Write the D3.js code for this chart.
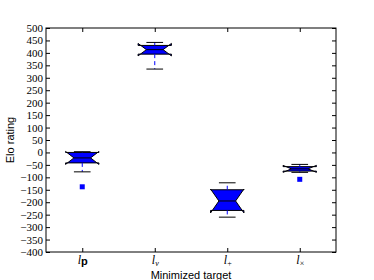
<!DOCTYPE html>
<html>
<head>
<meta charset="utf-8">
<script src="https://cdn.jsdelivr.net/npm/d3@7"></script>
<style>
  body { margin: 0; background: #fff; }
  svg { display: block; }
</style>
</head>
<body>
<div id="chart"></div>
<script>
// boxplot stats (Elo rating)
const subs = ["p", "v", "+", "\u00d7"];
const q1 = [-42, 395, -233, -75];
const med = [-22, 413, -195, -66];
const q3 = [0, 430, -150, -57];
const notchLo = [-48, 388, -243, -80];
const notchHi = [4, 438, -147, -52];
const whiskLo = [-78, 335, -260, -80];
const whiskHi = [3, 442, -122, -48];
const fliers = [[-138], [], [], [-108]];
const yTicks = d3.range(-400, 501, 50);

const margin = {top: 28, right: 38, bottom: 28, left: 46},
    width = 374 - margin.left - margin.right,
    height = 280 - margin.top - margin.bottom;

const svg = d3.select("#chart").append("svg")
    .attr("width", 374)
    .attr("height", 280);

const canvas = svg.append("g")
    .attr("transform", "translate(" + margin.left + "," + margin.top + ")");

const x = d3.scaleLinear().domain([0.5, 4.5]).range([0, width]);
const y = d3.scaleLinear().domain([-400, 500]).range([height, 0]);

const bw = x(1.46) - x(1);   // box width
const data = subs.map((s, i) => ({
    i: i, pos: i + 1, q1: q1[i], med: med[i], q3: q3[i],
    nlo: notchLo[i], nhi: notchHi[i], wlo: whiskLo[i], whi: whiskHi[i], fl: fliers[i]
}));

// notched boxes
canvas.selectAll(".box")
    .data(data)
  .enter().append("path")
    .attr("class", "box")
    .attr("fill", "#0000ff")
    .attr("stroke", "#000")
    .attr("stroke-width", 1)
    .attr("d", function(d) {
        const c = x(d.pos), x0 = c - bw / 2, x1 = c + bw / 2,
            cl = c - bw / 4, cr = c + bw / 4;
        return "M" + x0 + "," + y(d.q1) + "L" + x0 + "," + y(d.nlo) +
            "L" + cl + "," + y(d.med) + "L" + x0 + "," + y(d.nhi) +
            "L" + x0 + "," + y(d.q3) + "L" + x1 + "," + y(d.q3) +
            "L" + x1 + "," + y(d.nhi) + "L" + cr + "," + y(d.med) +
            "L" + x1 + "," + y(d.nlo) + "L" + x1 + "," + y(d.q1) + "Z";
    });

// medians
canvas.selectAll(".median")
    .data(data)
  .enter().append("line")
    .attr("x1", d => x(d.pos) - bw / 4)
    .attr("x2", d => x(d.pos) + bw / 4)
    .attr("y1", d => y(d.med))
    .attr("y2", d => y(d.med))
    .attr("stroke", "#000")
    .attr("stroke-width", 1);

// whiskers (dashed blue)
const whisk = [];
data.forEach(d => {
    whisk.push({pos: d.pos, a: d.q3, b: d.whi});
    whisk.push({pos: d.pos, a: d.q1, b: d.wlo});
});
canvas.selectAll(".whisker")
    .data(whisk)
  .enter().append("line")
    .attr("x1", d => x(d.pos))
    .attr("x2", d => x(d.pos))
    .attr("y1", d => y(d.a))
    .attr("y2", d => y(d.b))
    .attr("stroke", "#0000ff")
    .attr("stroke-width", 1)
    .attr("stroke-dasharray", "4,3");

// caps
const caps = [];
data.forEach(d => {
    caps.push({pos: d.pos, v: d.whi});
    caps.push({pos: d.pos, v: d.wlo});
});
canvas.selectAll(".cap")
    .data(caps)
  .enter().append("line")
    .attr("x1", d => x(d.pos) - bw / 4)
    .attr("x2", d => x(d.pos) + bw / 4)
    .attr("y1", d => y(d.v))
    .attr("y2", d => y(d.v))
    .attr("stroke", "#000")
    .attr("stroke-width", 1);

// outliers
const fl = [];
data.forEach(d => d.fl.forEach(v => fl.push({pos: d.pos, v: v})));
canvas.selectAll(".flier")
    .data(fl)
  .enter().append("rect")
    .attr("x", d => x(d.pos) - 2.5)
    .attr("y", d => y(d.v) - 2.5)
    .attr("width", 5)
    .attr("height", 5)
    .attr("fill", "#0000ff");

// axes, ticks pointing inward on all sides
const serif = "'Liberation Serif', 'DejaVu Serif', serif";
const yAxis = canvas.append("g")
    .call(d3.axisLeft(y).tickValues(yTicks).tickSize(-4).tickPadding(3)
        .tickFormat(d3.format("d")));
canvas.append("g")
    .attr("transform", "translate(" + width + ",0)")
    .call(d3.axisRight(y).tickValues(yTicks).tickSize(-4).tickFormat(""));
const xAxis = canvas.append("g")
    .attr("transform", "translate(0," + height + ")")
    .call(d3.axisBottom(x).tickValues([1, 2, 3, 4]).tickSize(-4)
        .tickFormat(""));
canvas.append("g")
    .call(d3.axisTop(x).tickValues([1, 2, 3, 4]).tickSize(-4).tickFormat(""));

canvas.selectAll(".domain").remove();
canvas.selectAll(".tick line").attr("stroke", "#000");
yAxis.selectAll("text")
    .style("font-family", serif)
    .style("font-size", "11px")
    .attr("fill", "#000");

// frame
canvas.append("rect")
    .attr("x", 0).attr("y", 0)
    .attr("width", width).attr("height", height)
    .attr("fill", "none")
    .attr("stroke", "#000")
    .attr("stroke-width", 1);

// x tick labels: l with subscript
const lab = xAxis.selectAll(".tick").append("text")
    .attr("y", 12)
    .attr("text-anchor", "middle")
    .attr("fill", "#000");
lab.append("tspan")
    .style("font-family", serif)
    .style("font-style", "italic")
    .style("font-size", "12px")
    .text("l");
lab.append("tspan")
    .attr("dy", (d, i) => i === 0 ? 1 : 2)
    .style("font-family", (d, i) => i === 0 ? "'Liberation Sans', Arial, sans-serif" : serif)
    .style("font-weight", (d, i) => i === 0 ? "bold" : "normal")
    .style("font-style", (d, i) => i === 1 ? "italic" : "normal")
    .style("font-size", (d, i) => i === 0 ? "11px" : "8px")
    .text((d, i) => subs[i]);

// axis labels
svg.append("text")
    .attr("transform", "translate(14," + (margin.top + height / 2) + ") rotate(-90)")
    .attr("text-anchor", "middle")
    .style("font-family", "'Liberation Sans', Arial, sans-serif")
    .style("font-size", "11px")
    .text("Elo rating");

svg.append("text")
    .attr("x", margin.left + width / 2)
    .attr("y", 279)
    .attr("text-anchor", "middle")
    .style("font-family", "'Liberation Sans', Arial, sans-serif")
    .style("font-size", "11px")
    .text("Minimized target");
</script>
</body>
</html>
